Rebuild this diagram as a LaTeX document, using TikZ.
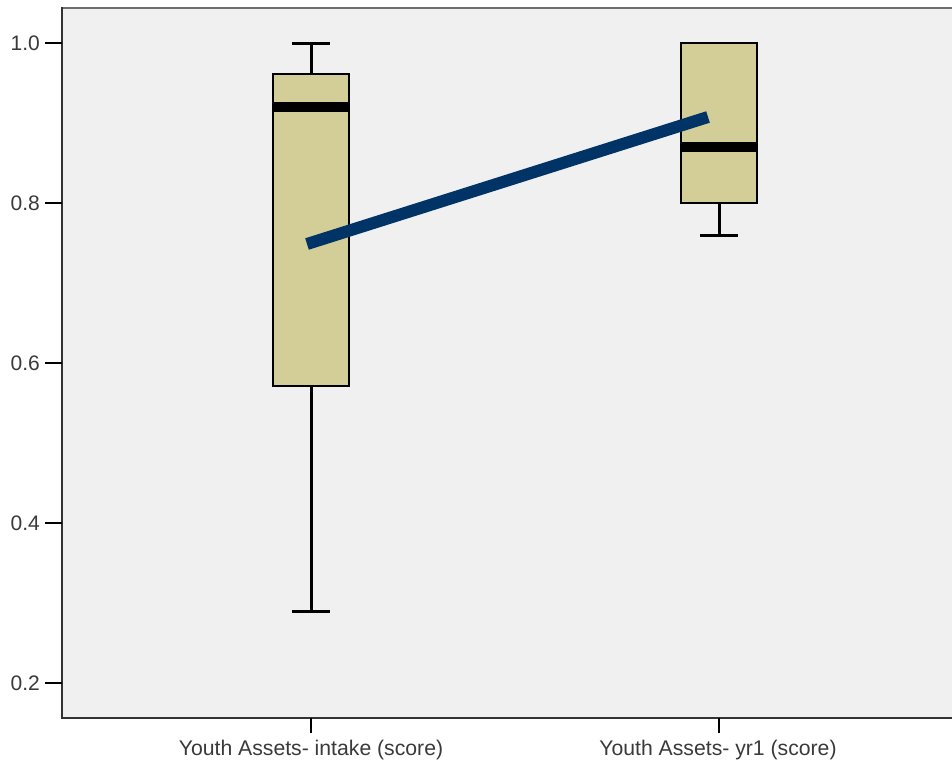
\documentclass[tikz,border=0pt]{standalone}
\usepackage{fontspec}
\setmainfont{Liberation Sans}
\definecolor{plotbg}{HTML}{F0F0F0}
\definecolor{boxfill}{HTML}{D3CE97}
\definecolor{meanline}{HTML}{003366}
\definecolor{axisc}{HTML}{333333}
\definecolor{framec}{HTML}{6E6E6E}
\definecolor{txt}{HTML}{3A3A3A}
\begin{document}
\begin{tikzpicture}[x=1pt,y=-1pt,
  boxst/.style={fill=boxfill,draw=black,line width=2.5pt},
  whisk/.style={draw=black,line width=3pt},
  medst/.style={draw=black,line width=10pt},
  axisst/.style={draw=axisc,line width=2pt},
  tickst/.style={draw=black,line width=2.5pt},
  ticklab/.style={text=txt,font=\fontsize{21}{23}\selectfont,anchor=east,inner sep=0pt},
  catlab/.style={text=txt,font=\fontsize{21.2}{23}\selectfont,anchor=center,inner sep=0pt}]
\useasboundingbox (0,0) rectangle (952,762);
\fill[white] (0,0) rectangle (952,762);
% plot area
\fill[plotbg] (62,8) rectangle (952,718);
\draw[framec,line width=2pt] (62,8) -- (952,8);
\draw[axisst] (62,7) -- (62,718) -- (952,718);
% y ticks
\foreach \v/\lab in {43/1.0,203/0.8,363/0.6,523/0.4,683/0.2}{
  \draw[tickst] (45,\v) -- (62,\v);
  \node[ticklab] at (40,\v) {\lab};
}
% x ticks
\draw[tickst] (311,718) -- (311,733);
\draw[tickst] (719,718) -- (719,733);
\node[catlab] (c1) at (311,750) {Youth Assets- intake (score)};
\node[catlab] (c2) at (718,750) {Youth Assets- yr1 (score)};
% box 1
\draw[whisk] (311,44) -- (311,74);
\draw[whisk] (292,44) -- (330,44);
\draw[whisk] (311,386) -- (311,611);
\draw[whisk] (292,611) -- (330,611);
\draw[boxst] (273,74) rectangle (349,386);
\draw[medst] (274,107) -- (348,107);
% box 2
\draw[whisk] (719,203) -- (719,235);
\draw[whisk] (700,235) -- (738,235);
\draw[boxst] (681,43) rectangle (757,203);
\draw[medst] (682,147) -- (756,147);
% mean line
\coordinate (m1) at (307,244);
\coordinate (m2) at (708,117);
\draw[meanline,line width=12pt] (m1) -- (m2);
\end{tikzpicture}
\end{document}
